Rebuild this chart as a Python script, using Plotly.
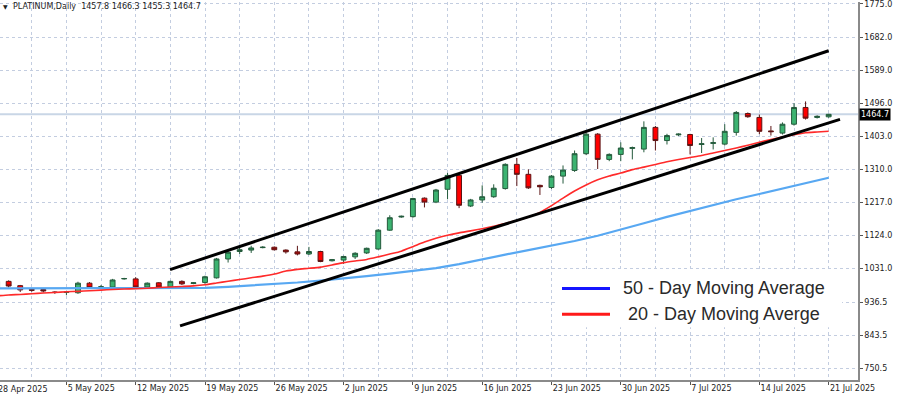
import plotly.graph_objects as go

# ---------------- data ----------------
bar_index = list(range(73))  # daily bars, 6 per week, 0 = 28 Apr 2025
opens = [977, 995, 983, 972, 972, 965, 964, 963, 990, 978,
         979, 1002, 1002, 979, 991, 979, 995, 989, 992, 1005,
         1058, 1079, 1083, 1090, 1091, 1083, 1078, 1072, 1079, 1053,
         1055, 1064, 1075, 1086, 1139, 1176, 1177, 1229, 1218, 1254,
         1293, 1207, 1224, 1233, 1256, 1324, 1296, 1265, 1259, 1291,
         1307, 1354, 1409, 1338, 1352, 1369, 1367, 1428, 1391, 1407,
         1408, 1380, 1383, 1381, 1414, 1467, 1456, 1418, 1412, 1437,
         1484, 1456, 1457.8]
highs = [999, 998, 985, 975, 976, 967, 968, 994, 993, 985,
         1002, 1005, 1007, 992, 993, 997, 998, 993, 1011, 1061,
         1080, 1092, 1095, 1094, 1093, 1085, 1095, 1092, 1081, 1058,
         1067, 1077, 1090, 1142, 1181, 1180, 1230, 1231, 1255, 1300,
         1298, 1227, 1265, 1268, 1327, 1342, 1310, 1267, 1294, 1321,
         1363, 1413, 1412, 1355, 1386, 1374, 1445, 1432, 1410, 1411,
         1410, 1398, 1400, 1437, 1474, 1470, 1464, 1432, 1442, 1496,
         1501, 1462, 1466.3]
lows = [972, 978, 965, 966, 964, 960, 956, 960, 974, 975,
        976, 1000, 976, 976, 976, 975, 985, 987, 988, 1003,
        1048, 1072, 1075, 1088, 1082, 1073, 1068, 1069, 1049, 1051,
        1044, 1058, 1072, 1084, 1137, 1174, 1174, 1203, 1215, 1226,
        1201, 1204, 1216, 1230, 1253, 1263, 1255, 1238, 1255, 1270,
        1303, 1350, 1311, 1333, 1333, 1338, 1358, 1363, 1380, 1404,
        1352, 1356, 1366, 1377, 1405, 1455, 1409, 1405, 1408, 1433,
        1450, 1453, 1455.3]
closes = [995, 982, 971, 970, 968, 964, 965, 990, 977, 980,
          999, 1003, 979, 990, 979, 995, 988, 991, 1008, 1058,
          1077, 1084, 1089, 1091, 1084, 1078, 1072, 1079, 1051, 1056,
          1065, 1074, 1088, 1139, 1174, 1178, 1228, 1218, 1252, 1293,
          1209, 1224, 1233, 1257, 1324, 1296, 1258, 1261, 1291, 1308,
          1354, 1409, 1338, 1352, 1370, 1371, 1428, 1391, 1405, 1409,
          1377, 1382, 1385, 1417, 1470, 1458, 1417, 1416, 1437, 1484,
          1454, 1459, 1464.7]

ma20 = [954.1, 956.9, 958.3, 960.2, 962.2, 963.9, 965.8, 967.0, 968.6, 970.3,
        972.3, 973.4, 974.5, 975.9, 977.6, 979.3, 980.7, 982.3, 985.4, 990.4,
        995.5, 1000.2, 1005.0, 1009.7, 1015.6, 1024.0, 1028.8, 1031.8, 1035.2, 1041.3,
        1047.8, 1052.5, 1056.7, 1064.0, 1071.8, 1080.0, 1092.5, 1105.4, 1116.3, 1124.7,
        1131.5, 1137.0, 1143.0, 1150.0, 1158.0, 1166.0, 1176.0, 1189.0, 1208.0, 1229.0,
        1249.0, 1266.0, 1280.5, 1291.1, 1299.5, 1309.3, 1316.3, 1323.8, 1331.4, 1337.8,
        1343.4, 1349.0, 1356.0, 1363.0, 1370.0, 1377.8, 1386.2, 1394.0, 1400.8, 1407.2,
        1412.8, 1415.0, 1417.0]

ma50_index = list(range(0, 73, 2))
ma50 = [975.1, 975.5, 975.8, 976.0, 976.3, 976.5, 976.8, 977.0, 977.0, 977.0,
        979.8, 983.4, 987.6, 991.8, 997.4, 1003.0, 1010.0, 1017.0, 1024.0, 1032.4,
        1043.6, 1057.6, 1070.2, 1082.7, 1095.3, 1108.5, 1123.3, 1140.1, 1158.3, 1176.4,
        1193.2, 1210.0, 1226.0, 1240.8, 1256.2, 1271.5, 1286.4]

week_ticks = list(range(0, 73, 6))
week_labels = ["28 Apr 2025", "5 May 2025", "12 May 2025", "19 May 2025",
               "26 May 2025", "2 Jun 2025", "9 Jun 2025", "16 Jun 2025",
               "23 Jun 2025", "30 Jun 2025", "7 Jul 2025", "14 Jul 2025",
               "21 Jul 2025"]
price_ticks = [750.5, 843.5, 936.5, 1031.0, 1124.0, 1217.0, 1310.0,
               1403.0, 1496.0, 1589.0, 1682.0, 1775.0]
price_labels = ["750.5", "843.5", "936.5", "1031.0", "1124.0", "1217.0",
                "1310.0", "1403.0", "1496.0", "1589.0", "1682.0", "1775.0"]

upper_channel_x = [14.97, 72.0]
upper_channel_y = [1028.0, 1643.5]
lower_channel_x = [15.84, 72.98]
lower_channel_y = [870.0, 1450.5]

last_price = 1464.7
header_text = "PLATINUM,Daily  1457.8 1466.3 1455.3 1464.7"
legend_labels = ["50 - Day Moving Average", " 20 - Day Moving Averge"]

# ---------------- figure ----------------
W, H = 900, 395
ML, MR, MT, MB = 0, 42, 0, 15
PW, PH = W - ML - MR, H - MT - MB

def px_x(p):
    return p / PW

def px_y(p):
    return 1 - p / PH

grid_col = "#c3cde0"
font_main = "DejaVu Sans"

fig = go.Figure()

fig.add_trace(go.Scatter(x=ma50_index, y=ma50, mode="lines",
                         line=dict(color="#58a8f2", width=2.2),
                         hoverinfo="skip", showlegend=False))
fig.add_trace(go.Scatter(x=bar_index, y=ma20, mode="lines",
                         line=dict(color="#ff2a2a", width=1.6, shape="spline", smoothing=0.6),
                         hoverinfo="skip", showlegend=False))

fig.add_trace(go.Candlestick(
    x=bar_index, open=opens, high=highs, low=lows, close=closes,
    increasing=dict(line=dict(color="#245a3c", width=1), fillcolor="#3cb371"),
    decreasing=dict(line=dict(color="#5c1414", width=1), fillcolor="#ff0000"),
    whiskerwidth=0, showlegend=False))

fig.add_trace(go.Scatter(x=upper_channel_x, y=upper_channel_y, mode="lines",
                         line=dict(color="black", width=3), showlegend=False))
fig.add_trace(go.Scatter(x=lower_channel_x, y=lower_channel_y, mode="lines",
                         line=dict(color="black", width=3), showlegend=False))

shapes = [
    dict(type="line", xref="paper", yref="y", x0=0, x1=1, y0=last_price, y1=last_price,
         line=dict(color="#c9d6e6", width=2), layer="below"),
    # legend panel
    dict(type="rect", xref="paper", yref="paper", x0=px_x(557), x1=px_x(842),
         y0=px_y(327), y1=px_y(270), fillcolor="white", line=dict(width=0), layer="above"),
    dict(type="line", xref="paper", yref="paper", x0=px_x(562), x1=px_x(610),
         y0=px_y(288), y1=px_y(288), line=dict(color="#1515ff", width=3), layer="above"),
    dict(type="line", xref="paper", yref="paper", x0=px_x(562), x1=px_x(610),
         y0=px_y(314), y1=px_y(314), line=dict(color="#ff1a1a", width=3), layer="above"),
]

annotations = [
    dict(xref="paper", yref="paper", x=px_x(621), y=px_y(288), text=legend_labels[0],
         showarrow=False, xanchor="left", yanchor="middle",
         font=dict(family="Liberation Sans", size=18, color="#2a2a2a")),
    dict(xref="paper", yref="paper", x=px_x(621), y=px_y(314), text=legend_labels[1],
         showarrow=False, xanchor="left", yanchor="middle",
         font=dict(family="Liberation Sans", size=18, color="#2a2a2a")),
    dict(xref="paper", yref="paper", x=px_x(1), y=px_y(5), text="▼",
         showarrow=False, xanchor="left", yanchor="middle",
         font=dict(family=font_main, size=6, color="#222")),
    dict(xref="paper", yref="paper", x=px_x(11), y=px_y(5), text=header_text,
         showarrow=False, xanchor="left", yanchor="middle",
         font=dict(family=font_main, size=8, color="#222")),
    dict(xref="paper", yref="y", x=1, y=last_price, text=str(last_price),
         showarrow=False, xanchor="left", yanchor="middle", bgcolor="black",
         borderpad=1, xshift=1,
         font=dict(family=font_main, size=8, color="white")),
    # first week label sits just left of the visible range (partly cut, as in the source)
    dict(xref="paper", yref="paper", x=0, y=0, text=week_labels[0],
         showarrow=False, xanchor="left", yanchor="top", yshift=-3, xshift=-4,
         font=dict(family=font_main, size=8, color="#222")),
]

fig.update_layout(
    width=W, height=H,
    margin=dict(l=ML, r=MR, t=MT, b=MB),
    paper_bgcolor="white", plot_bgcolor="white",
    boxgap=0.4,
    shapes=shapes, annotations=annotations,
    showlegend=False,
    xaxis=dict(
        range=[0.25, 74.54], rangeslider=dict(visible=False),
        tickmode="array", tickvals=week_ticks, ticktext=week_labels,
        ticklabelposition="outside right",
        ticks="outside", ticklen=3, tickcolor="#555",
        showgrid=True, gridcolor=grid_col, griddash="dot", gridwidth=1,
        minor=dict(tickmode="linear", tick0=0, dtick=3, showgrid=True,
                   gridcolor=grid_col, griddash="dot", gridwidth=1),
        showline=True, linecolor="#8a8a8a", linewidth=1.5,
        zeroline=False,
        tickfont=dict(family=font_main, size=8, color="#222"),
    ),
    yaxis=dict(
        side="right", range=[717.7, 1780.6],
        tickmode="array", tickvals=price_ticks, ticktext=price_labels,
        ticklabeloverflow="allow",
        ticks="outside", ticklen=3, tickcolor="#555",
        showgrid=True, gridcolor=grid_col, griddash="dot", gridwidth=1,
        showline=True, linecolor="#8a8a8a", linewidth=1.5,
        zeroline=False,
        tickfont=dict(family=font_main, size=8, color="#222"),
    ),
)

fig.write_html("out.html", config={"displayModeBar": False},
               post_script="document.body.style.margin='0';document.body.style.overflow='hidden';")
